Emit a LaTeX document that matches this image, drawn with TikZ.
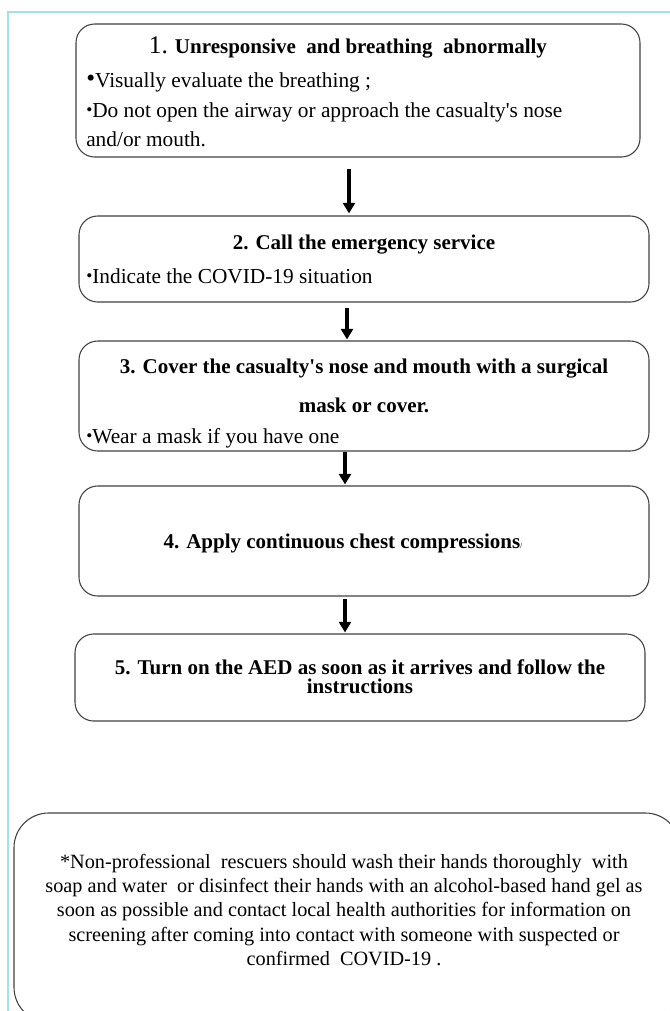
\documentclass[tikz,border=0pt]{standalone}
\usepackage{fontspec}
\setmainfont{Liberation Serif}
\usetikzlibrary{arrows.meta,positioning}
\definecolor{framecyan}{RGB}{160,226,232}
\newcommand{\smallbul}{\raisebox{1.2pt}{\fontsize{13}{13}\selectfont\textbullet}}
\newcommand{\bigbul}{\raisebox{0.4pt}{\fontsize{19}{19}\selectfont\textbullet}}

\begin{document}
\begin{tikzpicture}[x=0.75pt,y=-0.75pt,
		stepbox/.style={draw=black!75, line width=0.8pt, rounded corners=14pt, inner sep=0pt},
		flowarrow/.style={line width=2.3pt, -{Triangle[width=9pt,length=8pt]}},
		titletext/.style={font=\fontsize{15.75}{18}\selectfont\bfseries, inner sep=0pt, align=center},
		bullettext/.style={font=\fontsize{16}{18}\selectfont, anchor=west, inner sep=0pt}]
	\useasboundingbox (0,0) rectangle (670,1011);
	\draw[framecyan, line width=1.5pt] (670,12) -- (8,12) -- (8,1011);
	% steps
	\node[stepbox, minimum width=423pt, minimum height=99.75pt] (box1) at (358,90.5) {};
	\node[stepbox, minimum width=427.5pt, minimum height=64.5pt] (box2) at (364,259) {};
	\node[stepbox, minimum width=427.5pt, minimum height=82.5pt] (box3) at (364,396) {};
	\node[stepbox, minimum width=427.5pt, minimum height=82.5pt] (box4) at (364,541) {};
	\node[stepbox, minimum width=427.5pt, minimum height=65.25pt] (box5) at (360,677.5) {};
	\node[stepbox, rounded corners=26pt, minimum width=499.5pt, minimum height=156.75pt] (note) at (347,917.5) {};
	% texts
	\node[titletext] (title1) at (348,47) {{\fontsize{19}{18}\mdseries 1.} Unresponsive\ \ and breathing\ \ abnormally};
	\node[bullettext] (item1a) at (86,82) {\bigbul Visually evaluate the breathing ;};
	\node[bullettext] (item1b) at (86,112) {\smallbul Do not open the airway or approach the casualty\textquotesingle s nose};
	\node[bullettext] (item1c) at (86,139) {and/or mouth.};
	\node[titletext] (title2) at (364,245) {2. Call the emergency service};
	\node[bullettext] (item2) at (86,276) {\smallbul Indicate the COVID-19 situation};
	\node[titletext, font=\fontsize{15.75}{29.25}\selectfont\bfseries] (title3) at (364,385.5) {3. Cover the casualty\textquotesingle s nose and mouth with a surgical\\ mask or cover.};
	\node[bullettext] (item3) at (86,438) {\smallbul Wear a mask if you have one};
	\node[titletext] (title4) at (343,543) {4. Apply continuous chest compressions{\fontsize{6}{6}\mdseries /}};
	\node[titletext, font=\fontsize{15.75}{14.6}\selectfont\bfseries] (title5) at (360,676.5) {5. Turn on the AED as soon as it arrives and follow the\\ instructions};
	\node[align=center, inner sep=0pt, font=\fontsize{15.2}{18.2}\selectfont] (notetext) at (344,910) {*Non-professional\ \ rescuers should wash their hands thoroughly\ \ with\\ soap and water\ \ or disinfect their hands with an alcohol-based hand gel as\\ soon as possible and contact local health authorities for information on\\ screening after coming into contact with someone with suspected or\\ confirmed\ \ COVID-19 .};
	% arrows
	\draw[flowarrow] ([xshift=-6.75pt,yshift=-8.25pt]box1.south) -- ([xshift=-11.25pt,yshift=1.5pt]box2.north);
	\draw[flowarrow] ([xshift=-12.75pt,yshift=-3.75pt]box2.south) -- ([xshift=-12.75pt,yshift=0.75pt]box3.north);
	\draw[flowarrow] ([xshift=-14.25pt,yshift=0pt]box3.south) -- ([xshift=-14.25pt,yshift=0.75pt]box4.north);
	\draw[flowarrow] ([xshift=-14.25pt,yshift=-1.5pt]box4.south) -- ([xshift=-11.25pt,yshift=0.75pt]box5.north);
\end{tikzpicture}
\end{document}
